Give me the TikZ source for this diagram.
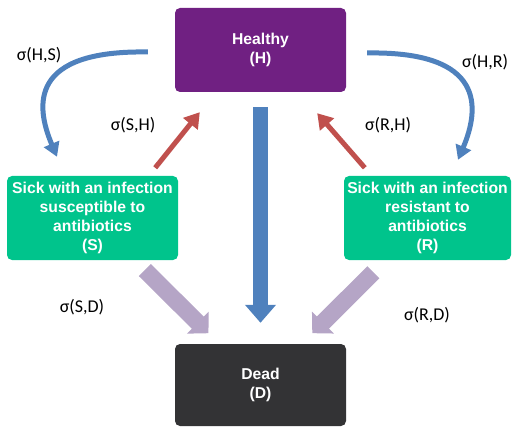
\documentclass[tikz,border=0pt]{standalone}
\usepackage{fontspec}
\setmainfont{Liberation Sans}
\newfontfamily\ratefont{Carlito}
\usepackage{tikz}
\usetikzlibrary{arrows.meta}
\definecolor{healthycol}{RGB}{112,32,130}
\definecolor{sickcol}{RGB}{0,196,140}
\definecolor{deadcol}{RGB}{51,51,53}
\definecolor{flowblue}{RGB}{79,129,189}
\definecolor{flowred}{RGB}{192,80,77}
\definecolor{flowlav}{RGB}{181,165,198}
\newcommand{\boxfont}{\bfseries\fontsize{15.7}{19}\selectfont}
\newcommand{\ratesize}{\ratefont\fontsize{18}{21}\selectfont}
\tikzset{
  state/.style={rounded corners=5pt, text=white, font=\boxfont, align=center,
    minimum width=171pt, minimum height=84pt, inner sep=0pt},
  rate/.style={font=\ratesize},
  infect/.style={draw=flowblue, line width=5pt, -{Triangle[width=16pt,length=14pt]}},
  recover/.style={draw=flowred, line width=5pt, -{Triangle[width=18pt,length=15pt]}},
  die/.style={draw=flowlav, line width=17pt, -{Triangle[width=30pt,length=15pt]}},
  diedirect/.style={draw=flowblue, line width=15pt, -{Triangle[width=30pt,length=18pt]}}
}

\begin{document}
\begin{tikzpicture}[x=1pt,y=-1pt]
\useasboundingbox (0,0) rectangle (513,427);

% states
\node[state, fill=healthycol] (H) at (260.5,50) {Healthy\\(H)};
\node[state, fill=sickcol] (S) at (92.5,218) {Sick with an infection\\susceptible to\\antibiotics\\(S)};
\node[state, fill=sickcol, minimum width=167pt] (R) at (427.5,218) {Sick with an infection\\resistant to\\antibiotics\\(R)};
\node[state, fill=deadcol, minimum height=82pt] (D) at (260.5,385) {Dead\\(D)};

% infection
\draw[infect] ([xshift=-27pt,yshift=-2pt]H.west) .. controls +(-118,-2) and +(-22,-52) .. ([xshift=-35.5pt,yshift=19pt]S.north);
\draw[infect] ([xshift=21pt,yshift=-3pt]H.east) .. controls +(118,-2) and +(22,-52) .. ([xshift=30.5pt,yshift=16pt]R.north);

% recovery
\draw[recover] ([xshift=-23pt,yshift=8pt]S.north east) -- ([xshift=25pt,yshift=-20pt]H.south west);
\draw[recover] ([xshift=21pt,yshift=8pt]R.north west) -- ([xshift=-29pt,yshift=-21pt]H.south east);

% death
\draw[diedirect, shorten <=15pt, shorten >=21pt] (H) -- (D);
\draw[die, shorten <=14pt, shorten >=15pt] (S) -- (D);
\draw[die, shorten <=17pt, shorten >=15pt] (R) -- (D);

% rates
\node[rate] (hs) at (39,55) {σ(H,S)};
\node[rate] (sh) at (133,125) {σ(S,H)};
\node[rate] (hr) at (485,62) {σ(H,R)};
\node[rate] (rh) at (388,125) {σ(R,H)};
\node[rate] (sd) at (82,307) {σ(S,D)};
\node[rate] (rd) at (427,315) {σ(R,D)};

\end{tikzpicture}
\end{document}
